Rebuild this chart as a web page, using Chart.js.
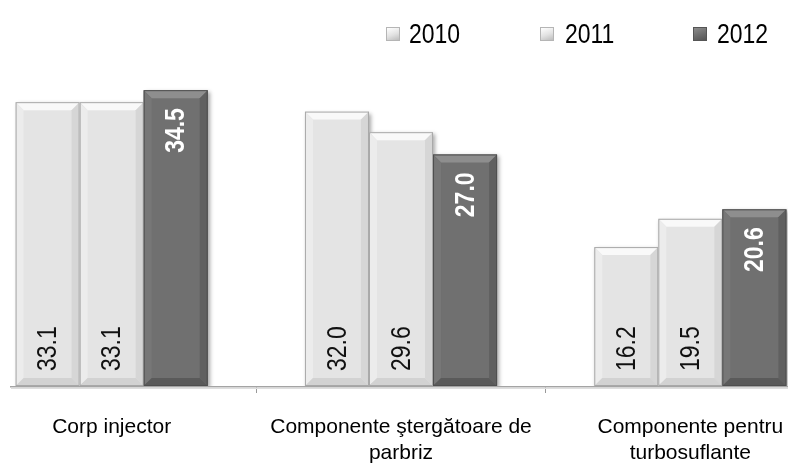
<!DOCTYPE html>
<html>
<head>
<meta charset="utf-8">
<script src="https://cdn.jsdelivr.net/npm/chart.js@4"></script>
<style>
  html, body { margin: 0; padding: 0; background: #fff; }
  #wrap { position: relative; width: 788px; height: 464px; overflow: hidden; }
  #box { position: absolute; left: -33px; top: 0; width: 868px; height: 464px; }
  #legend { position: absolute; top: 0; left: 0; width: 788px; height: 60px; }
  .lg-box { position: absolute; top: 27px; width: 14px; height: 14px; box-sizing: border-box; }
  .lg-text {
    position: absolute; top: 15px; font-family: "Liberation Sans", Arial, sans-serif;
    font-size: 28px; line-height: 38px; height: 38px; color: #000;
    transform: scaleX(0.82); transform-origin: left center; white-space: nowrap;
  }
</style>
</head>
<body>
<div id="wrap">
  <div id="box"><canvas id="chart"></canvas></div>
  <div id="legend"></div>
</div>
<script>
const categories = [
  "Corp injector",
  ["Componente ştergătoare de", "parbriz"],
  ["Componente pentru", "turbosuflante"]
];
const seriesNames = ["2010", "2011", "2012"];
const values2010 = [33.1, 32.0, 16.2];
const values2011 = [33.1, 29.6, 19.5];
const values2012 = [34.5, 27.0, 20.6];

const seriesColors = ["#e4e4e4", "#e4e4e4", "#707070"];
const darkSeries = [false, false, true];

// html legend
const legendEl = document.getElementById("legend");
const legendBoxX = [386, 540, 693];
const legendTextX = [409, 565, 717];
seriesNames.forEach((name, i) => {
  const sq = document.createElement("div");
  sq.className = "lg-box";
  sq.style.left = legendBoxX[i] + "px";
  sq.style.background = darkSeries[i]
    ? "linear-gradient(160deg, #8c8c8c 0%, #6a6a6a 60%, #555 100%)"
    : "linear-gradient(160deg, #ffffff 0%, #e2e2e2 55%, #bdbdbd 100%)";
  sq.style.border = darkSeries[i] ? "1px solid #555" : "1px solid #b5b5b5";
  legendEl.appendChild(sq);
  const tx = document.createElement("div");
  tx.className = "lg-text";
  tx.style.left = legendTextX[i] + "px";
  tx.textContent = name;
  legendEl.appendChild(tx);
});

// drop shadow under bars
const barShadow = {
  id: "barShadow",
  beforeDatasetsDraw(chart) {
    const ctx = chart.ctx;
    ctx.save();
    ctx.shadowColor = "rgba(0,0,0,0.35)";
    ctx.shadowBlur = 4;
    ctx.shadowOffsetX = 2;
    ctx.shadowOffsetY = 2;
  },
  afterDatasetsDraw(chart) {
    chart.ctx.restore();
  }
};

function poly(ctx, pts, fill) {
  ctx.beginPath();
  ctx.moveTo(pts[0][0], pts[0][1]);
  for (let i = 1; i < pts.length; i++) ctx.lineTo(pts[i][0], pts[i][1]);
  ctx.closePath();
  ctx.fillStyle = fill;
  ctx.fill();
}

// bevel + value labels
const bevelAndLabels = {
  id: "bevelAndLabels",
  afterDatasetsDraw(chart) {
    const ctx = chart.ctx;
    const b = 8;
    chart.data.datasets.forEach((ds, di) => {
      const meta = chart.getDatasetMeta(di);
      const dark = darkSeries[di];
      meta.data.forEach((bar, i) => {
        const p = bar.getProps(["x", "y", "base", "width"], true);
        const l = p.x - p.width / 2, r = p.x + p.width / 2, t = p.y, bot = p.base;
        ctx.save();
        poly(ctx, [[l, t], [r, t], [r - b, t + b], [l + b, t + b]], dark ? "#8e8e8e" : "#f9f9f9");
        poly(ctx, [[l, t], [l + b, t + b], [l + b, bot - b], [l, bot]], dark ? "#777" : "#ececec");
        poly(ctx, [[r, t], [r, bot], [r - b, bot - b], [r - b, t + b]], dark ? "#606060" : "#d6d6d6");
        poly(ctx, [[l, bot], [r, bot], [r - b, bot - b], [l + b, bot - b]], dark ? "#5a5a5a" : "#d2d2d2");
        ctx.strokeStyle = dark ? "#4f4f4f" : "#a8a8a8";
        ctx.lineWidth = 1;
        ctx.strokeRect(l + 0.5, t + 0.5, p.width - 1, bot - t - 1);

        // rotated value label
        const txt = ds.data[i].toFixed(1);
        ctx.translate(p.x, dark ? t + 18 : bot - 15);
        ctx.rotate(-Math.PI / 2);
        ctx.scale(0.82, 1);
        ctx.font = (dark ? "bold " : "") + "28px 'Liberation Sans', Arial, sans-serif";
        ctx.fillStyle = dark ? "#ffffff" : "#111111";
        ctx.textBaseline = "middle";
        ctx.textAlign = dark ? "right" : "left";
        ctx.fillText(txt, 0, 1);
        ctx.restore();
      });
    });
  }
};

// baseline of category axis
const baseLine = {
  id: "baseLine",
  afterDraw(chart) {
    const ctx = chart.ctx;
    const y = Math.round(chart.scales.y.getPixelForValue(0));
    ctx.save();
    ctx.fillStyle = "#a4a4a4";
    ctx.fillRect(43, y, chart.chartArea.right - 43, 1.5);
    ctx.fillStyle = "#dedede";
    ctx.fillRect(44, y + 1.5, chart.chartArea.right - 44, 1.5);
    ctx.restore();
  }
};

const valueLists = [values2010, values2011, values2012];

new Chart(document.getElementById("chart"), {
  type: "bar",
  data: {
    labels: categories,
    datasets: seriesNames.map((name, i) => ({
      label: name,
      data: valueLists[i],
      backgroundColor: seriesColors[i],
      borderWidth: 0,
      categoryPercentage: 0.664,
      barPercentage: 1.0
    }))
  },
  options: {
    responsive: true,
    maintainAspectRatio: false,
    animation: false,
    layout: { padding: { top: 43, left: 0, right: 0, bottom: 0 } },
    plugins: {
      legend: { display: false },
      tooltip: { enabled: false }
    },
    scales: {
      x: {
        afterFit: (s) => { s.height = 78; },
        border: { display: false },
        grid: {
          display: true,
          offset: true,
          drawOnChartArea: false,
          drawTicks: true,
          tickLength: 7,
          color: "#999"
        },
        ticks: {
          color: "#000",
          padding: 21,
          maxRotation: 0,
          autoSkip: false,
          font: { family: "'Liberation Sans', Arial, sans-serif", size: 21, lineHeight: 1.24 }
        }
      },
      y: {
        display: false,
        min: 0,
        max: 40
      }
    }
  },
  plugins: [barShadow, bevelAndLabels, baseLine]
});
</script>
</body>
</html>
